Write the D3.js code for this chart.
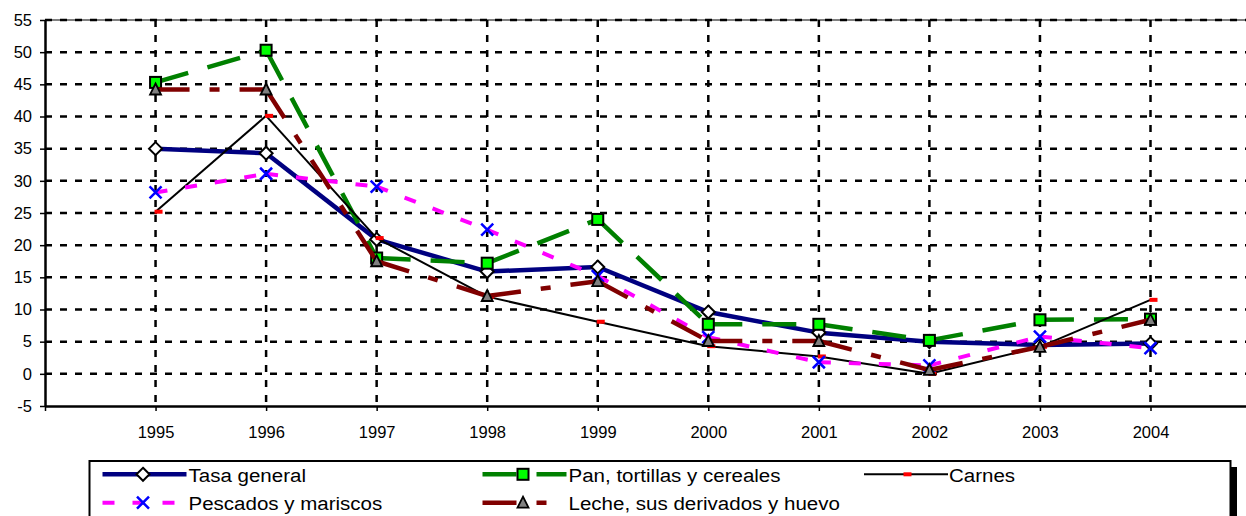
<!DOCTYPE html>
<html>
<head>
<meta charset="utf-8">
<script src="https://cdn.jsdelivr.net/npm/d3@7"></script>
<style>
  html, body { margin: 0; padding: 0; background: #fff; }
  svg { display: block; font-family: "Liberation Sans", Arial, sans-serif; }
</style>
</head>
<body>
<svg id="chart" width="1246" height="516"></svg>
<script>
// ---------- data ----------
const years = [1995, 1996, 1997, 1998, 1999, 2000, 2001, 2002, 2003, 2004];
const yTicks = [-5, 0, 5, 10, 15, 20, 25, 30, 35, 40, 45, 50, 55];

const tasaGeneral   = [35.0, 34.3, 20.9, 15.9, 16.6, 9.6, 6.4, 5.0, 4.5, 4.7];
const panTortillas  = [45.3, 50.3, 18.0, 17.2, 24.0, 7.7, 7.7, 5.2, 8.4, 8.5];
const carnes        = [25.2, 40.1, 21.1, 12.0, 8.1, 4.3, 2.7, 0.0, 4.2, 11.5];
const pescados      = [28.2, 31.1, 29.1, 22.4, 15.2, 5.7, 1.8, 1.3, 5.8, 4.0];
const leche         = [44.2, 44.2, 17.5, 12.1, 14.4, 5.1, 5.1, 0.6, 4.2, 8.4];

const seriesNames = ["Tasa general", "Pan, tortillas y cereales", "Carnes",
                     "Pescados y mariscos", "Leche, sus derivados y huevo"];
const seriesValues = [tasaGeneral, panTortillas, carnes, pescados, leche];

// ---------- styles ----------
const styles = [
  { stroke: "#000080", width: 4.5, dash: null,          marker: "diamond" },
  { stroke: "#008000", width: 4.5, dash: "34,20",       marker: "square" },
  { stroke: "#000000", width: 2,   dash: null,          marker: "redDash" },
  { stroke: "#FF00FF", width: 4,   dash: "12,18",       marker: "cross" },
  { stroke: "#800000", width: 4.5, dash: "34,20,10,20", marker: "triangle" }
];

const svg = d3.select("#chart");
const W = 1246;
const plotLeft = 45, plotTop = 20, plotBottom = 406;

const x = d3.scaleLinear().domain([1994, 2005]).range([plotLeft, plotLeft + 11 * 110.55]);
const y = d3.scaleLinear().domain([-5, 55]).range([plotBottom, plotTop]);

// ---------- gridlines ----------
const grid = svg.append("g");
grid.append("line").attr("x1", plotLeft).attr("x2", W).attr("y1", plotTop).attr("y2", plotTop)
  .attr("stroke", "#808080").attr("stroke-width", 2);

grid.selectAll(".hg").data(yTicks.filter(v => v > -5)).join("line")
  .attr("x1", plotLeft).attr("x2", W)
  .attr("y1", d => y(d)).attr("y2", d => y(d))
  .attr("stroke", "#000").attr("stroke-width", 2.5)
  .attr("stroke-dasharray", "7,8");

grid.selectAll(".vg").data(years).join("line")
  .attr("x1", d => x(d)).attr("x2", d => x(d))
  .attr("y1", plotTop).attr("y2", plotBottom)
  .attr("stroke", "#000").attr("stroke-width", 2.5)
  .attr("stroke-dasharray", "7,8");

// ---------- axes ----------
const yAxis = svg.append("g").attr("transform", `translate(${plotLeft},0)`)
  .call(d3.axisLeft(y).tickValues(yTicks).tickSize(5).tickSizeOuter(0).tickPadding(8)
        .tickFormat(d => String(d)));
yAxis.selectAll("text").attr("font-size", 16.5).attr("fill", "#000")
  .attr("font-family", "Liberation Sans, Arial, sans-serif");
yAxis.selectAll("line").attr("stroke", "#000").attr("stroke-width", 1.5);
yAxis.select(".domain").attr("stroke", "#000").attr("stroke-width", 2.5);

const xAxis = svg.append("g").attr("transform", `translate(0,${plotBottom})`)
  .call(d3.axisBottom(x).tickValues([1994].concat(years)).tickSize(5).tickSizeOuter(0)
        .tickPadding(15).tickFormat(d => d === 1994 ? "" : String(d)));
xAxis.select(".domain").attr("d", `M${plotLeft},0.5H${W}`).attr("stroke", "#000").attr("stroke-width", 2.5);
xAxis.selectAll("text").attr("font-size", 16.5).attr("fill", "#000")
  .attr("font-family", "Liberation Sans, Arial, sans-serif");
xAxis.selectAll("line").attr("stroke", "#000").attr("stroke-width", 1.5);

// ---------- markers ----------
function drawMarker(g, type, cx, cy) {
  if (type === "diamond") {
    g.append("path").attr("d", `M${cx},${cy-6.5}L${cx+6.5},${cy}L${cx},${cy+6.5}L${cx-6.5},${cy}Z`)
      .attr("fill", "#fff").attr("stroke", "#000").attr("stroke-width", 2);
  } else if (type === "square") {
    g.append("rect").attr("x", cx - 5.5).attr("y", cy - 5.5).attr("width", 11).attr("height", 11)
      .attr("fill", "#00FF00").attr("stroke", "#000").attr("stroke-width", 2);
  } else if (type === "triangle") {
    g.append("path").attr("d", `M${cx},${cy-6}L${cx+5.5},${cy+5}L${cx-5.5},${cy+5}Z`)
      .attr("fill", "#808080").attr("stroke", "#000").attr("stroke-width", 1.8);
  } else if (type === "cross") {
    g.append("path").attr("d", `M${cx-6},${cy-6}L${cx+6},${cy+6}M${cx+6},${cy-6}L${cx-6},${cy+6}`)
      .attr("stroke", "#0000FF").attr("stroke-width", 2.5).attr("fill", "none");
  } else if (type === "redDash") {
    g.append("rect").attr("x", cx - 1).attr("y", cy - 2).attr("width", 8).attr("height", 4)
      .attr("fill", "#FF0000");
  }
}

// ---------- series ----------
const line = d3.line().x(d => x(d[0])).y(d => y(d[1]));
seriesValues.forEach((vals, i) => {
  const st = styles[i];
  const g = svg.append("g");
  const pts = years.map((yr, j) => [yr, vals[j]]);
  d3.pairs(pts).forEach(seg => {
    g.append("path").attr("d", line(seg))
      .attr("fill", "none").attr("stroke", st.stroke).attr("stroke-width", st.width)
      .attr("stroke-dasharray", st.dash).attr("stroke-linejoin", "round");
  });
  pts.forEach(p => drawMarker(g, st.marker, x(p[0]), y(p[1])));
});

// ---------- legend ----------
const leg = svg.append("g");
leg.append("rect").attr("x", 1231).attr("y", 467).attr("width", 6).attr("height", 60).attr("fill", "#000");
leg.append("rect").attr("x", 89.5).attr("y", 461).attr("width", 1141).attr("height", 80)
  .attr("fill", "#fff").attr("stroke", "#000").attr("stroke-width", 2);

const legendPos = [
  { x0: 102.5, ly: 474.3, tx: 188.5, ty: 482 },
  { x0: 482.5, ly: 474.3, tx: 568.5, ty: 482 },
  { x0: 864,   ly: 474.3, tx: 949,   ty: 482 },
  { x0: 102.5, ly: 502.7, tx: 188.5, ty: 510 },
  { x0: 482.5, ly: 502.7, tx: 568.5, ty: 510 }
];
seriesNames.forEach((name, i) => {
  const st = styles[i], p = legendPos[i];
  const g = leg.append("g");
  g.append("line").attr("x1", p.x0).attr("x2", p.x0 + 84).attr("y1", p.ly).attr("y2", p.ly)
    .attr("stroke", st.stroke).attr("stroke-width", st.width).attr("stroke-dasharray", st.dash);
  drawMarker(g, st.marker, p.x0 + 40.5, p.ly);
  g.append("text").attr("transform", `translate(${p.tx},${p.ty}) scale(1.08,1)`)
    .attr("font-size", 19).attr("fill", "#000")
    .text(name);
});
</script>
</body>
</html>
